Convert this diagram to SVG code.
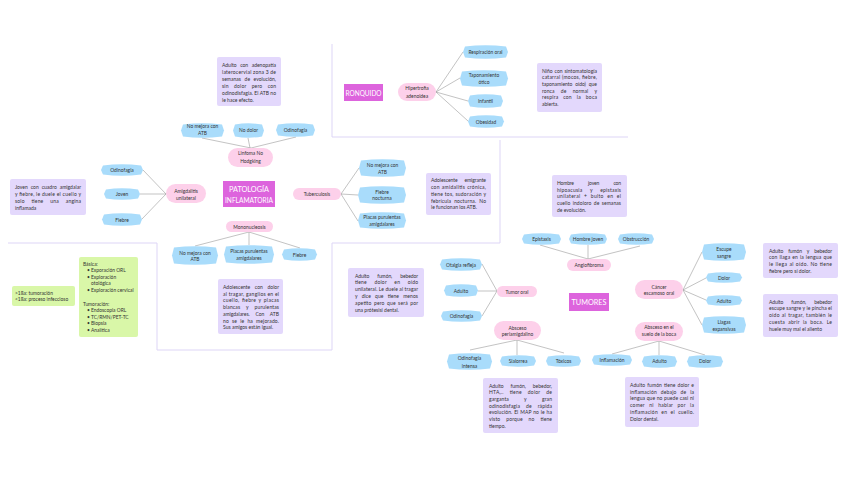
<svg xmlns="http://www.w3.org/2000/svg" width="848" height="477" viewBox="0 0 848 477">
<style>
.t{font-family:Lato,"Open Sans","Liberation Sans",sans-serif;font-size:4.9px;fill:#333}
.k{font-size:5px}
.c{text-anchor:middle}
.b{fill:#a9dcfb}
.p{fill:#fdd0ea}
.n{fill:#e3d8fc}
.m{fill:#dd64dd}
.g{fill:#d9f7a8}
.w{font-family:Lato,"Open Sans","Liberation Sans",sans-serif;fill:#fff;text-anchor:middle}
.e{stroke:#9a9a9a;stroke-width:0.6;fill:none}
.d{stroke:#ddd5f6;stroke-width:1;fill:none}
</style>
<rect width="848" height="477" fill="#fff"/>
<g id="dividers">
<path class="d" d="M332,44 V137 H628"/>
<path class="d" d="M500,140 V243 H332 V350 H157 V243 H8"/>
</g>
<g id="connectors">
<path class="e" d="M143,170 L166,194 M140,194 L166,194 M142,219 L166,194"/>
<path class="e" d="M202,138 L251,148 M248,138 L250,148 M296,137 L251,148"/>
<path class="e" d="M341,194 L359,168 M341,194 L358,195 M341,194 L358,221"/>
<path class="e" d="M249,232 L195,246 M249,232 L249,245 M249,232 L300,248"/>
<path class="e" d="M436,92 L463,52 M436,92 L460,78 M436,92 L468,101 M436,92 L468,121"/>
<path class="e" d="M497,291 L482,264 M497,291 L478,291 M497,291 L482,316"/>
<path class="e" d="M517,340 L470,350 M517,340 L517,355 M517,340 L564,353"/>
<path class="e" d="M588,259 L540,245 M588,259 L588,245 M588,259 L640,246"/>
<path class="e" d="M683,290 L702,252 M683,290 L706,278 M683,290 L706,300 M683,290 L702,325"/>
<path class="e" d="M659,341 L612,354 M659,341 L659,355 M659,341 L705,355"/>
</g>

<!-- Titles -->
<g id="patologia"><rect class="m" x="223" y="181" width="52" height="26"/><text class="w" x="249" y="192" font-size="8" textLength="40" lengthAdjust="spacingAndGlyphs">PATOLOGÍA</text><text class="w" x="249" y="202.5" font-size="8" textLength="48" lengthAdjust="spacingAndGlyphs">INFLAMATORIA</text></g>
<g id="ronquido"><rect class="m" x="344" y="84" width="39" height="17"/><text class="w" x="363.5" y="95.5" font-size="8" textLength="36" lengthAdjust="spacingAndGlyphs">RONQUIDO</text></g>
<g id="tumores"><rect class="m" x="569" y="293" width="40" height="18"/><text class="w" x="589" y="305" font-size="8" textLength="35" lengthAdjust="spacingAndGlyphs">TUMORES</text></g>

<!-- Amigdalitis cluster -->
<g id="amigdalitis"><rect class="p" x="166" y="184" width="40" height="19" rx="9.5"/><text class="t c" x="186" y="192.5">Amigdalitis</text><text class="t c" x="186" y="200">unilateral</text></g>
<g id="am-odino"><path class="b" d="M103,165.5 Q122,163 141,165.5 L143,170 L141,174.5 Q122,177 103,174.5 L101,170 Z"/><text class="t c" x="122" y="172">Odinofagia</text></g>
<g id="am-joven"><path class="b" d="M106,189.5 Q122,187 138,189.5 L140,194 L138,198.5 Q122,201 106,198.5 L104,194 Z"/><text class="t c" x="122" y="196">Joven</text></g>
<g id="am-fiebre"><path class="b" d="M104,214.5 Q122,212 140,214.5 L142,219.5 L140,224.5 Q122,227 104,224.5 L102,219.5 Z"/><text class="t c" x="122" y="221.5">Fiebre</text></g>
<g id="note-amig"><rect class="n" x="10" y="179" width="76" height="36" rx="2"/>
<text class="t k" x="15" y="188.5" textLength="66" style="word-spacing:1.6px">Joven con cuadro amigdalar</text>
<text class="t k" x="15" y="195.5" textLength="66">y fiebre, le duele el cuello y</text>
<text class="t k" x="15" y="202.5" textLength="66" style="word-spacing:5.5px">solo tiene una angina</text>
<text class="t k" x="15" y="209.5">inflamada</text></g>

<!-- Linfoma cluster -->
<g id="linfoma"><rect class="p" x="228" y="148" width="45" height="19" rx="9.5"/><text class="t c" x="250.5" y="155">Linfoma No</text><text class="t c" x="250.5" y="163">Hodgking</text></g>
<g id="lf-atb"><path class="b" d="M183,124.5 Q202.5,122 222,124.5 L224,130.5 L222,136.5 Q202.5,139 183,136.5 L181,130.5 Z"/><text class="t c" x="202.5" y="128">No mejora con</text><text class="t c" x="202.5" y="135">ATB</text></g>
<g id="lf-nodolor"><path class="b" d="M235,124.5 Q248.5,122 262,124.5 L264,130.5 L262,136.5 Q248.5,139 235,136.5 L233,130.5 Z"/><text class="t c" x="248.5" y="132">No dolor</text></g>
<g id="lf-odino"><path class="b" d="M278,124.5 Q295.5,122 313,124.5 L315,130 L313,135.5 Q295.5,138 278,135.5 L276,130 Z"/><text class="t c" x="295.5" y="132">Odinofagia</text></g>
<g id="note-linfoma"><rect class="n" x="217" y="57" width="64" height="49" rx="2"/>
<text class="t k" x="222" y="67" textLength="54" style="word-spacing:2.3px">Adulto con adenopatía</text>
<text class="t k" x="222" y="74" textLength="54">laterocervial zona 3 de</text>
<text class="t k" x="222" y="81" textLength="54" style="word-spacing:2.3px">semanas de evolución,</text>
<text class="t k" x="222" y="88" textLength="54" style="word-spacing:3.9px">sin dolor pero con</text>
<text class="t k" x="222" y="95" textLength="54">odinodisfagia. El ATB no</text>
<text class="t k" x="222" y="102">le hace efecto.</text></g>

<!-- Tuberculosis cluster -->
<g id="tuberculosis"><rect class="p" x="293" y="188" width="48" height="12" rx="6"/><text class="t c" x="317" y="196">Tuberculosis</text></g>
<g id="tb-atb"><path class="b" d="M361,160.5 Q382.5,158 404,160.5 L406,168 L404,175.5 Q382.5,178 361,175.5 L359,168 Z"/><text class="t c" x="382.5" y="167">No mejora con</text><text class="t c" x="382.5" y="173.5">ATB</text></g>
<g id="tb-fiebre"><path class="b" d="M360,187.5 Q382,185 404,187.5 L406,195 L404,202.5 Q382,205 360,202.5 L358,195 Z"/><text class="t c" x="382" y="193.5">Fiebre</text><text class="t c" x="382" y="200">nocturna</text></g>
<g id="tb-placas"><path class="b" d="M360,213.5 Q382,211 404,213.5 L406,220.5 L404,227.5 Q382,230 360,227.5 L358,220.5 Z"/><text class="t c" x="382" y="218.5">Placas purulentas</text><text class="t c" x="382" y="226">amigdalares</text></g>
<g id="note-tb"><rect class="n" x="426" y="173" width="65" height="42" rx="2"/>
<text class="t k" x="431" y="181.8" textLength="55" style="word-spacing:5.6px">Adolescente emigrante</text>
<text class="t k" x="431" y="188.7" textLength="55" style="word-spacing:0.5px">con amidalitis crónica,</text>
<text class="t k" x="431" y="195.6" textLength="55" style="word-spacing:0.3px">tiene tos, sudoración y</text>
<text class="t k" x="431" y="202.5" textLength="55" style="word-spacing:1.6px">febrícula nocturna. No</text>
<text class="t k" x="431" y="209.4">le funcionan los ATB.</text></g>

<!-- Mononucleosis cluster -->
<g id="mononucleosis"><rect class="p" x="226" y="221" width="47" height="11" rx="5.5"/><text class="t c" x="249.5" y="228.5">Mononucleosis</text></g>
<g id="mn-atb"><path class="b" d="M174,247.5 Q195,245 216,247.5 L218,255.5 L216,263.5 Q195,266 174,263.5 L172,255.5 Z"/><text class="t c" x="195" y="254.5">No mejora con</text><text class="t c" x="195" y="261">ATB</text></g>
<g id="mn-placas"><path class="b" d="M226,246.5 Q249,244 272,246.5 L274,254.5 L272,262.5 Q249,265 226,262.5 L224,254.5 Z"/><text class="t c" x="249" y="253">Placas purulentas</text><text class="t c" x="249" y="260">amigdalares</text></g>
<g id="mn-fiebre"><path class="b" d="M284,249.5 Q299.5,247 315,249.5 L317,254.5 L315,259.5 Q299.5,262 284,259.5 L282,254.5 Z"/><text class="t c" x="299.5" y="256.5">Fiebre</text></g>
<g id="note-mono"><rect class="n" x="218" y="279" width="65" height="55" rx="2"/>
<text class="t k" x="223" y="289" textLength="56" style="word-spacing:3.3px">Adolescente con dolor</text>
<text class="t k" x="223" y="295.7" textLength="56">al tragar, ganglios en el</text>
<text class="t k" x="223" y="302.4" textLength="56" style="word-spacing:0.7px">cuello, fiebre y placas</text>
<text class="t k" x="223" y="309.1" textLength="56" style="word-spacing:4.5px">blancas y purulentas</text>
<text class="t k" x="223" y="315.8" textLength="56" style="word-spacing:4.5px">amigdalares. Con ATB</text>
<text class="t k" x="223" y="322.5" textLength="56" style="word-spacing:1.7px">no se le ha mejorado.</text>
<text class="t k" x="223" y="329.2">Sus amigos están igual.</text></g>

<!-- Ronquido cluster -->
<g id="hipertrofia"><rect class="p" x="398" y="83" width="38" height="18" rx="9"/><text class="t c" x="417" y="90">Hipertrofia</text><text class="t c" x="417" y="97.5">adenoidea</text></g>
<g id="rq-resp"><path class="b" d="M465,46.5 Q485.5,44 506,46.5 L508,52 L506,57.5 Q485.5,60 465,57.5 L463,52 Z"/><text class="t c" x="485.5" y="54">Respiración oral</text></g>
<g id="rq-tapon"><path class="b" d="M462,71.5 Q484,69 506,71.5 L508,78.5 L506,85.5 Q484,88 462,85.5 L460,78.5 Z"/><text class="t c" x="484" y="77">Taponamiento</text><text class="t c" x="484" y="83.5">ótico</text></g>
<g id="rq-infantil"><path class="b" d="M470,95.5 Q485.5,93 501,95.5 L503,101 L501,106.5 Q485.5,109 470,106.5 L468,101 Z"/><text class="t c" x="485.5" y="103">Infantil</text></g>
<g id="rq-obesidad"><path class="b" d="M470,116.5 Q486,114 502,116.5 L504,121.5 L502,126.5 Q486,129 470,126.5 L468,121.5 Z"/><text class="t c" x="486" y="123.5">Obesidad</text></g>
<g id="note-ronquido"><rect class="n" x="537" y="63" width="65" height="49" rx="2"/>
<text class="t k" x="542" y="72.5" textLength="55" style="word-spacing:0.5px">Niño con sintomatología</text>
<text class="t k" x="542" y="79.2" textLength="55">catarral (mocos, fiebre,</text>
<text class="t k" x="542" y="85.9" textLength="55" style="word-spacing:1.6px">taponamiento oído) que</text>
<text class="t k" x="542" y="92.6" textLength="55" style="word-spacing:5px">ronca de normal y</text>
<text class="t k" x="542" y="99.3" textLength="55" style="word-spacing:3.4px">respira con la boca</text>
<text class="t k" x="542" y="106">abierta.</text></g>

<!-- Green notes -->
<g id="note-tiempo"><rect class="g" x="12" y="286" width="63" height="20" rx="2"/>
<text class="t" x="15" y="294.5">&gt;1ßa: tumoración</text>
<text class="t" x="15" y="301.2">&lt;1ßa: proceso infeccioso</text></g>
<g id="note-exploracion"><rect class="g" x="79" y="257" width="59" height="80" rx="2"/>
<text class="t" x="83" y="265.5">Básica:</text>
<text class="t" x="87" y="272">•</text><text class="t" x="91" y="272">Exporación ORL</text>
<text class="t" x="87" y="278.5">•</text><text class="t" x="91" y="278.5">Exploración</text>
<text class="t" x="91" y="285">otológica</text>
<text class="t" x="87" y="292">•</text><text class="t" x="91" y="292">Exploración cervical</text>
<text class="t" x="83" y="305.5">Tumoración:</text>
<text class="t" x="87" y="312.2">•</text><text class="t" x="91" y="312.2">Endoscopia ORL</text>
<text class="t" x="87" y="318.8">•</text><text class="t" x="91" y="318.8">TC/RMN/PET-TC</text>
<text class="t" x="87" y="325.4">•</text><text class="t" x="91" y="325.4">Biopsia</text>
<text class="t" x="87" y="332">•</text><text class="t" x="91" y="332">Analítica</text></g>

<!-- Tumor oral cluster -->
<g id="tumor-oral"><rect class="p" x="497" y="286" width="40" height="11" rx="5.5"/><text class="t c" x="517" y="293.5">Tumor oral</text></g>
<g id="to-otalgia"><path class="b" d="M442,259.5 Q461,257 480,259.5 L482,264.5 L480,269.5 Q461,272 442,269.5 L440,264.5 Z"/><text class="t c" x="461" y="266.5">Otalgia refleja</text></g>
<g id="to-adulto"><path class="b" d="M446,285.5 Q461,283 476,285.5 L478,290.5 L476,295.5 Q461,298 446,295.5 L444,290.5 Z"/><text class="t c" x="461" y="292.5">Adulto</text></g>
<g id="to-odino"><path class="b" d="M443,311.5 Q461.5,309 480,311.5 L482,316 L480,320.5 Q461.5,323 443,320.5 L441,316 Z"/><text class="t c" x="461.5" y="318">Odinofagia</text></g>
<g id="note-tumor"><rect class="n" x="348" y="268" width="76" height="49" rx="2"/>
<text class="t k" x="355" y="277.5" textLength="63" style="word-spacing:6.8px">Adulto fumón, bebedor</text>
<text class="t k" x="355" y="284.4" textLength="63" style="word-spacing:6.1px">tiene dolor en oído</text>
<text class="t k" x="355" y="291.3" textLength="63">unilateral. Le duele al tragar</text>
<text class="t k" x="355" y="298.2" textLength="63" style="word-spacing:2.8px">y dice que tiene menos</text>
<text class="t k" x="355" y="305.1" textLength="63" style="word-spacing:1px">apetito pero que será por</text>
<text class="t k" x="355" y="312">una prótesisi dental.</text></g>

<!-- Absceso periamigdalino cluster -->
<g id="absceso-peri"><rect class="p" x="494" y="321" width="47" height="19" rx="9.5"/><text class="t c" x="517.5" y="329.5">Absceso</text><text class="t c" x="517.5" y="336">periamigdalino</text></g>
<g id="ap-odino"><path class="b" d="M449,354.5 Q469.5,352 490,354.5 L492,361.5 L490,368.5 Q469.5,371 449,368.5 L447,361.5 Z"/><text class="t c" x="469.5" y="360">Odinofagia</text><text class="t c" x="469.5" y="367.5">intensa</text></g>
<g id="ap-sialorrea"><path class="b" d="M502,356.5 Q518,354 534,356.5 L536,361 L534,365.5 Q518,368 502,365.5 L500,361 Z"/><text class="t c" x="518" y="362.8">Sialorrea</text></g>
<g id="ap-toxicos"><path class="b" d="M548,356.5 Q563.5,354 579,356.5 L581,361 L579,365.5 Q563.5,368 548,365.5 L546,361 Z"/><text class="t c" x="563.5" y="362.8">Tóxicos</text></g>
<g id="note-absceso"><rect class="n" x="483" y="378" width="75" height="55" rx="2"/>
<text class="t k" x="489" y="387.5" textLength="63" style="word-spacing:5.6px">Adulto fumón, bebedor,</text>
<text class="t k" x="489" y="394.2" textLength="63" style="word-spacing:4.5px">HTA,.. tiene dolor de</text>
<text class="t k" x="489" y="400.9" textLength="63" style="word-spacing:13.9px">garganta y gran</text>
<text class="t k" x="489" y="407.6" textLength="63" style="word-spacing:4.5px">odinodisfagia de rápida</text>
<text class="t k" x="489" y="414.3" textLength="63" style="word-spacing:0.4px">evolución. El MAP no le ha</text>
<text class="t k" x="489" y="421" textLength="63" style="word-spacing:4.5px">visto porque no tiene</text>
<text class="t k" x="489" y="427.7">tiempo.</text></g>

<!-- Angiofibroma cluster -->
<g id="angiofibroma"><rect class="p" x="567" y="259" width="44" height="12" rx="6"/><text class="t c" x="589" y="267">Angiofibroma</text></g>
<g id="an-epistaxis"><path class="b" d="M524,234.5 Q541.5,232 559,234.5 L561,239 L559,243.5 Q541.5,246 524,243.5 L522,239 Z"/><text class="t c" x="541.5" y="241">Epistaxis</text></g>
<g id="an-hombre"><path class="b" d="M571,234.5 Q588,232 605,234.5 L607,239 L605,243.5 Q588,246 571,243.5 L569,239 Z"/><text class="t c" x="588" y="241">Hombre joven</text></g>
<g id="an-obstruccion"><path class="b" d="M620,234.5 Q636,232 652,234.5 L654,239 L652,243.5 Q636,246 620,243.5 L618,239 Z"/><text class="t c" x="636" y="241">Obstrucción</text></g>
<g id="note-angio"><rect class="n" x="552" y="175" width="75" height="42" rx="2"/>
<text class="t k" x="557" y="185" textLength="64" style="word-spacing:13.2px">Hombre joven con</text>
<text class="t k" x="557" y="191.7" textLength="64" style="word-spacing:6.1px">hipoacusia y epistaxis</text>
<text class="t k" x="557" y="198.4" textLength="64" style="word-spacing:1.9px">unilateral + bulto en el</text>
<text class="t k" x="557" y="205.1" textLength="64" style="word-spacing:1px">cuello indoloro de semanas</text>
<text class="t k" x="557" y="211.8">de evolución.</text></g>

<!-- Cancer cluster -->
<g id="cancer"><rect class="p" x="635" y="280" width="48" height="19" rx="9.5"/><text class="t c" x="659" y="288.5">Cáncer</text><text class="t c" x="659" y="295">escamoso oral</text></g>
<g id="ca-escupe"><path class="b" d="M704,244.5 Q724,242 744,244.5 L746,252 L744,259.5 Q724,262 704,259.5 L702,252 Z"/><text class="t c" x="724" y="251">Escupe</text><text class="t c" x="724" y="258">sangre</text></g>
<g id="ca-dolor"><path class="b" d="M708,273.5 Q724,271 740,273.5 L742,277.5 L740,281.5 Q724,284 708,281.5 L706,277.5 Z"/><text class="t c" x="724" y="279.5">Dolor</text></g>
<g id="ca-adulto"><path class="b" d="M708,296.5 Q724,294 740,296.5 L742,300.5 L740,304.5 Q724,307 708,304.5 L706,300.5 Z"/><text class="t c" x="724" y="302.5">Adulto</text></g>
<g id="ca-llagas"><path class="b" d="M704,317.5 Q724,315 744,317.5 L746,325 L744,332.5 Q724,335 704,332.5 L702,325 Z"/><text class="t c" x="724" y="324">Llagas</text><text class="t c" x="724" y="331">expansivas</text></g>
<g id="note-cancer1"><rect class="n" x="763" y="243" width="75" height="35" rx="2"/>
<text class="t k" x="769" y="252.5" textLength="63" style="word-spacing:3.8px">Adulto fumón y bebedor</text>
<text class="t k" x="769" y="259.3" textLength="63" style="word-spacing:0.4px">con llaga en la lengua que</text>
<text class="t k" x="769" y="266.1" textLength="63" style="word-spacing:0.4px">le llega al oído. No tiene</text>
<text class="t k" x="769" y="272.9">fiebre pero sí dolor.</text></g>
<g id="note-cancer2"><rect class="n" x="763" y="294" width="75" height="43" rx="2"/>
<text class="t k" x="769" y="303.5" textLength="63" style="word-spacing:6.8px">Adulto fumón, bebedor</text>
<text class="t k" x="769" y="310.4" textLength="63">escupe sangre y le pincha el</text>
<text class="t k" x="769" y="317.3" textLength="63" style="word-spacing:0.5px">oído al tragar, también le</text>
<text class="t k" x="769" y="324.2" textLength="63" style="word-spacing:1.6px">cuesta abrir la boca. Le</text>
<text class="t k" x="769" y="331.1">huele muy mal el aliento</text></g>

<!-- Absceso suelo de la boca cluster -->
<g id="absceso-suelo"><rect class="p" x="635" y="322" width="48" height="19" rx="9.5"/><text class="t c" x="659" y="329">Absceso en el</text><text class="t c" x="659" y="336">suelo de la boca</text></g>
<g id="as-inflamacion"><path class="b" d="M594,355.5 Q612,353 630,355.5 L632,360 L630,364.5 Q612,367 594,364.5 L592,360 Z"/><text class="t c" x="612" y="362">Inflamación</text></g>
<g id="as-adulto"><path class="b" d="M644,356.5 Q659.5,354 675,356.5 L677,361.5 L675,366.5 Q659.5,369 644,366.5 L642,361.5 Z"/><text class="t c" x="659.5" y="363.3">Adulto</text></g>
<g id="as-dolor"><path class="b" d="M689,356.5 Q705,354 721,356.5 L723,361.5 L721,366.5 Q705,369 689,366.5 L687,361.5 Z"/><text class="t c" x="705" y="363.3">Dolor</text></g>
<g id="note-suelo"><rect class="n" x="625" y="377" width="74" height="50" rx="2"/>
<text class="t k" x="630" y="386.8" textLength="64" style="word-spacing:0.7px">Adulto fumón tiene dolor e</text>
<text class="t k" x="630" y="393.6" textLength="64" style="word-spacing:2.5px">inflamación debajo de la</text>
<text class="t k" x="630" y="400.4" textLength="64" style="word-spacing:0.1px">lengua que no puede casi ni</text>
<text class="t k" x="630" y="407.2" textLength="64" style="word-spacing:3px">comer ni hablar por la</text>
<text class="t k" x="630" y="414" textLength="64" style="word-spacing:1.7px">inflamación en el cuello.</text>
<text class="t k" x="630" y="420.8">Dolor dental.</text></g>
</svg>
